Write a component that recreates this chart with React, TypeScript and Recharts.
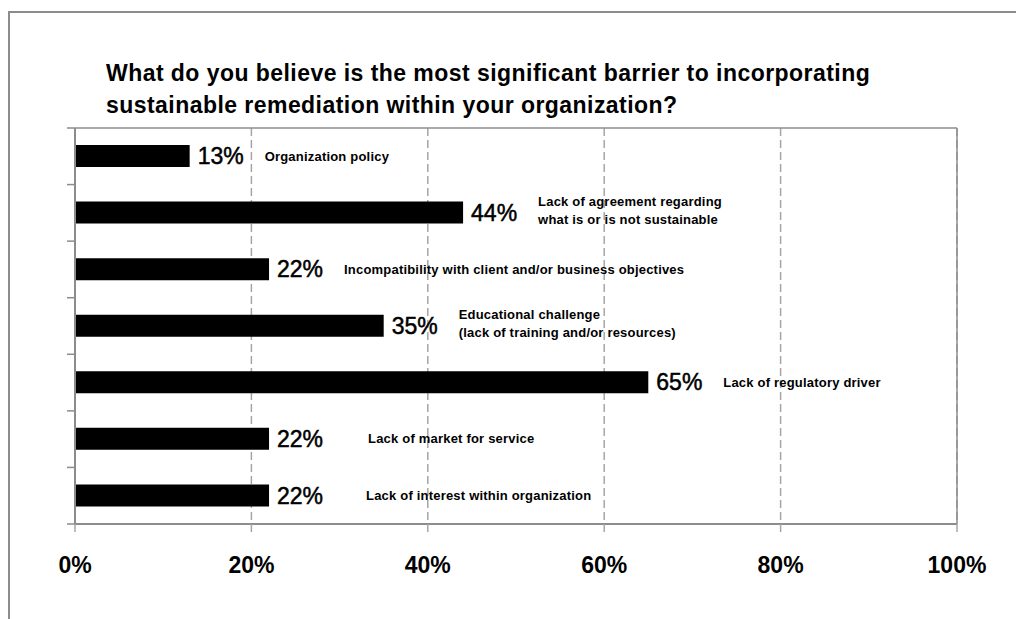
import { BarChart, Bar, XAxis, YAxis, CartesianGrid, LabelList, ReferenceLine } from 'recharts';

const FONT = '"Liberation Sans", Arial, Helvetica, sans-serif';

const title = [
  'What do you believe is the most significant barrier to incorporating',
  'sustainable remediation within your organization?',
];

const barriers = [
  ['Organization policy'],
  ['Lack of agreement regarding', 'what is or is not sustainable'],
  ['Incompatibility with client and/or business objectives'],
  ['Educational challenge', '(lack of training and/or resources)'],
  ['Lack of regulatory driver'],
  ['Lack of market for service'],
  ['Lack of interest within organization'],
];

const shares = [13, 44, 22, 35, 65, 22, 22];

const xTicks = [0, 20, 40, 60, 80, 100];

// extra push to the right for a couple of the notes (layout only)
const noteShift = [0, 0, 0, 0, 0, 24, 22];

const PLOT_H = 396;
const BAND = PLOT_H / barriers.length;

const rows = barriers.map((lines, i) => ({
  name: lines.join(' '),
  value: shares[i],
  note: lines.join('|'),
}));

function NoteLabel(props: any) {
  const { x, y, width, height, value, index } = props;
  if (value == null) return null;
  const lines = String(value).split('|');
  const i = index ?? rows.findIndex((r) => r.note === value);
  const left = Number(x) + Number(width) + 75 + (noteShift[i] || 0);
  const mid = Number(y) + Number(height) / 2;
  const lh = 18;
  const start = lines.length > 1 ? mid - 2 - ((lines.length - 1) * lh) / 2 : mid;
  return (
    <text x={left} y={start} fontFamily={FONT} fontSize={13} fontWeight="bold" letterSpacing={0.2} fill="#000">
      {lines.map((l, k) => (
        <tspan key={k} x={left} y={start + k * lh} dy="0.35em">
          {l}
        </tspan>
      ))}
    </text>
  );
}

function XTick(props: any) {
  const { x, y, payload } = props;
  return (
    <text x={x} y={y} dy="0.71em" textAnchor="middle" fontFamily={FONT} fontSize={23} fontWeight="bold" fill="#000">
      {payload.value}%
    </text>
  );
}

// ticks sit on the band edges, not the band centres
function EdgeTick(props: any) {
  const { payload, index, visibleTicksCount } = props;
  const cy = payload.coordinate;
  const x2 = 75;
  const x1 = x2 - 8;
  const last = index === (visibleTicksCount ?? barriers.length) - 1;
  return (
    <g>
      <line x1={x1} x2={x2} y1={cy - BAND / 2} y2={cy - BAND / 2} stroke="#8c8c8c" strokeWidth={1.5} />
      {last && <line x1={x1} x2={x2} y1={cy + BAND / 2} y2={cy + BAND / 2} stroke="#8c8c8c" strokeWidth={1.5} />}
    </g>
  );
}

export default function App() {
  return (
    <div style={{ position: 'relative', width: 1016, height: 619, overflow: 'hidden', fontFamily: FONT }}>
      <style>{'html,body{margin:0;padding:0;overflow:hidden;}'}</style>
      <div
        style={{
          position: 'absolute',
          left: 8,
          top: 11,
          width: 1008,
          height: 608,
          borderTop: '2px solid #8c8c8c',
          borderLeft: '2px solid #8c8c8c',
          boxSizing: 'border-box',
        }}
      />
      <div
        style={{
          position: 'absolute',
          left: 106,
          top: 57,
          fontSize: 23,
          lineHeight: '32px',
          fontWeight: 'bold',
          letterSpacing: 0.45,
          color: '#000',
          whiteSpace: 'nowrap',
        }}
      >
        {title.map((t) => (
          <div key={t}>{t}</div>
        ))}
      </div>
      <div style={{ position: 'absolute', left: 0, top: 0 }}>
        <BarChart
          width={1016}
          height={619}
          data={rows}
          layout="vertical"
          margin={{ top: 128, right: 59, left: 74, bottom: 35 }}
        >
          <CartesianGrid horizontal={false} stroke="#a6a6a6" strokeDasharray="8 4" strokeWidth={1.5} />
          <CartesianGrid
            vertical={false}
            stroke="#8c8c8c"
            strokeWidth={1.5}
            horizontalCoordinatesGenerator={({ offset }: any) => [offset.top]}
          />
          <XAxis
            type="number"
            domain={[0, 100]}
            ticks={xTicks}
            interval={0}
            height={60}
            tick={<XTick />}
            tickSize={8}
            tickMargin={25}
            axisLine={{ stroke: '#8c8c8c', strokeWidth: 2 }}
            tickLine={{ stroke: '#a6a6a6', strokeWidth: 1.5 }}
          />
          <YAxis
            type="category"
            dataKey="name"
            width={1}
            interval={0}
            tickSize={8}
            tickMargin={0}
            tickLine={false}
            tick={<EdgeTick />}
            axisLine={{ stroke: '#8c8c8c', strokeWidth: 2 }}
          />
          <ReferenceLine x={100} stroke="#8c8c8c" strokeWidth={1.5} />
          <Bar dataKey="value" fill="#000" barSize={22} isAnimationActive={false}>
            <LabelList
              dataKey="value"
              position="right"
              offset={8}
              formatter={(v: any) => `${v}%`}
              style={{ fontFamily: FONT, fontSize: 23, fill: '#000', stroke: '#000', strokeWidth: 0.5 }}
            />
            <LabelList dataKey="note" content={<NoteLabel />} />
          </Bar>
        </BarChart>
      </div>
    </div>
  );
}
